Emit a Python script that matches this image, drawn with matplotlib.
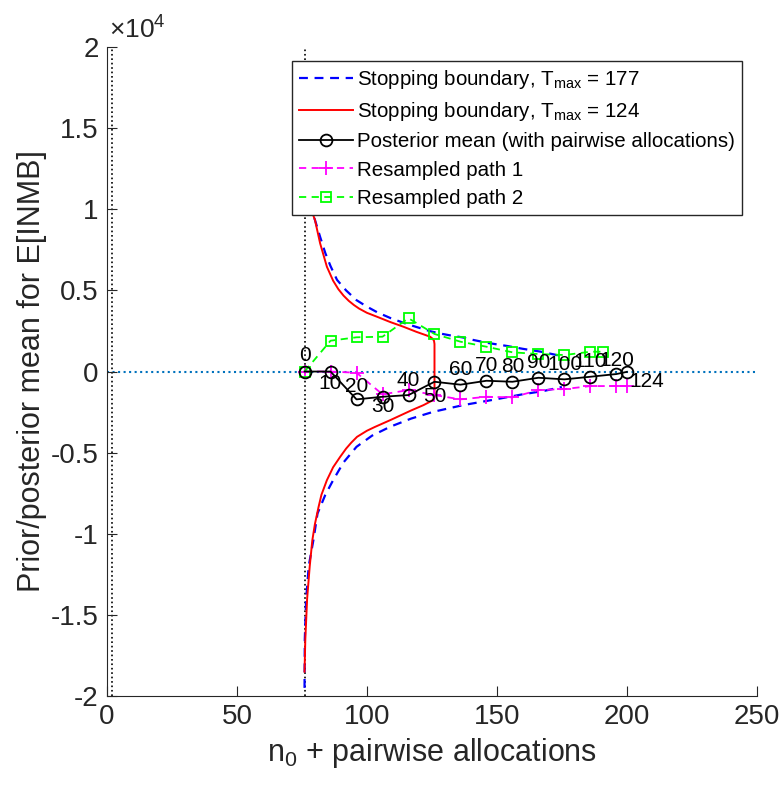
import numpy as np
import matplotlib
matplotlib.use('Agg')
import matplotlib.pyplot as plt

plt.rcParams['font.family'] = ['Liberation Sans', 'DejaVu Sans']
plt.rcParams['mathtext.fontset'] = 'custom'
plt.rcParams['mathtext.rm'] = 'Liberation Sans'
plt.rcParams['mathtext.it'] = 'Liberation Sans'
plt.rcParams['axes.unicode_minus'] = False

# stopping boundaries
blue_n_up = [76.0, 76.3, 76.8, 77.6, 78.5, 80, 82, 84, 86, 88.5, 92, 96, 100, 104, 109, 115, 120,
             124, 128, 133, 137, 141, 147, 154, 160, 167, 175]
blue_up = [19000, 16000, 13000, 11000, 10000, 9350, 8300, 7300, 6500, 5650, 5000, 4400, 4000, 3650,
           3300, 2950, 2700, 2500, 2350, 2200, 2100, 1944, 1750, 1574, 1400, 1222, 950]
blue_n_lo = [76.0, 76.1, 76.6, 77.6, 79.4, 81, 84, 87, 91, 96, 102, 109, 117, 125.6, 137, 150, 160,
             168, 175]
blue_lo = [-19500, -16500, -14100, -12000, -10400, -8750, -7600, -6700, -5600, -4640, -3950, -3400,
           -2900, -2480, -2070, -1700, -1400, -1200, -950]

red_n = [76.0, 76.3, 76.8, 77.6, 78.5, 80, 82, 84.6, 87, 89, 91, 93, 95, 97, 100, 103.8, 109, 114,
         119, 122, 124.3, 125.3, 125.8, 126, 126, 125.8, 125, 121.8, 117, 109, 103, 100, 96.2, 94, 92,
         89.7, 87, 84.6, 82.5, 81.4, 80, 79, 78, 77, 76.3, 76.0]
red_val = [19000, 16000, 13000, 11000, 10000, 9350, 7900, 6460, 5600, 5080, 4680, 4360, 4100, 3880,
           3620, 3383, 3050, 2765, 2450, 2280, 2148, 2020, 1900, 1700, -1500, -1680, -1800, -2068,
           -2400, -2994, -3420, -3650, -4025, -4380, -4750, -5260, -5900, -6698, -7600, -8346, -9400,
           -10400, -12000, -14000, -16500, -18500]

# posterior mean and resampled paths
n_mean = [76, 86, 96, 106, 116, 126, 136, 146, 156, 166, 176, 186, 196, 200]
post_mean = [0, 0, -1716, -1555, -1450, -630, -810, -568, -630, -383, -482, -321, -154, -20]
path1 = [0, 0, -74, -1407, -1142, -1450, -1716, -1555, -1593, -1142, -1080, -895, -895, -895]
n_path2 = [76, 86, 96, 106, 116, 126, 136, 146, 156, 166, 176, 186, 191]
path2 = [0, 1900, 2111, 2148, 3284, 2315, 1840, 1530, 1185, 1080, 1018, 1222, 1222]
point_labels = ['0', '10', '20', '30', '40', '50', '60', '70', '80', '90', '100', '110', '120', '124']

n0 = 76
dark = (0.15, 0.15, 0.15)

fig = plt.figure(figsize=(7.81, 7.85), dpi=100)
ax = fig.add_axes([0.137, 0.1134, 0.832, 0.8266])

ax.axvline(2, color='k', ls=':', lw=1.2, zorder=1)
ax.axvline(n0, color='k', ls=':', lw=1.2, zorder=1)
ax.axhline(0, color=(0, 0.447, 0.741), ls=':', lw=1.5, zorder=1)

l1, = ax.plot(blue_n_up, blue_up, color='b', ls='--', lw=1.6, dashes=(4, 3), zorder=2)
ax.plot(blue_n_lo, blue_lo, color='b', ls='--', lw=1.6, dashes=(4, 3), zorder=2)
l2, = ax.plot(red_n, red_val, color='r', lw=1.4, zorder=3)
l4, = ax.plot(n_mean, path1, color=(1, 0, 1), ls='--', dashes=(4, 3), lw=1.3, marker='+', ms=10,
              mew=1.3, zorder=4)
l5, = ax.plot(n_path2, path2, color=(0, 1, 0), ls='--', dashes=(4, 3), lw=1.3, marker='s', ms=6.5,
              mfc='none', mew=1.3, zorder=4)
l3, = ax.plot(n_mean, post_mean, color='k', lw=1.3, marker='o', ms=8.5, mfc='none', mew=1.3, zorder=5)

offsets = [(0, 11.5), (0, -8.6), (0, 9.4), (0, -7.2), (0, 10.8), (0, -10.8), (0, 10.8),
           (0, 10.8), (0, 10.8), (0, 10.8), (0, 10.8), (0, 10.8), (0, 9.4), (2, -7.2)]
for x, y, lab, off in zip(n_mean, post_mean, point_labels, offsets):
    ha = 'left' if lab == '124' else 'center'
    ax.annotate(lab, (x, y), xytext=off, textcoords='offset points', ha=ha, va='center',
                fontsize=15, color='k', zorder=6)

ax.set_xlim(0, 250)
ax.set_ylim(-20000, 20000)
ax.set_xticks([0, 50, 100, 150, 200, 250])
yt = [-2, -1.5, -1, -0.5, 0, 0.5, 1, 1.5, 2]
ax.set_yticks([v * 1e4 for v in yt])
ax.set_yticklabels([('%g' % v) for v in yt])
ax.text(0.003, 1.005, r'$\times$10$^4$', transform=ax.transAxes, fontsize=19, ha='left', va='bottom',
        color=dark)

for s in ['top', 'right']:
    ax.spines[s].set_visible(False)
for s in ['left', 'bottom']:
    ax.spines[s].set_color(dark)
ax.tick_params(direction='in', length=7, labelsize=20, colors=dark, pad=6)

ax.set_xlabel(r'n$_0$ + pairwise allocations', fontsize=22, color=dark, labelpad=4)
ax.set_ylabel('Prior/posterior mean for E[INMB]', fontsize=22, color=dark, labelpad=3)

leg = ax.legend([l1, l2, l3, l4, l5],
                [r'Stopping boundary, T$_{max}$ = 177', r'Stopping boundary, T$_{max}$ = 124',
                 'Posterior mean (with pairwise allocations)', 'Resampled path 1', 'Resampled path 2'],
                loc='upper right', bbox_to_anchor=(0.977, 0.979), borderaxespad=0, fontsize=14.8,
                fancybox=False, framealpha=1, edgecolor=dark, handlelength=2.6,
                handletextpad=0.2, labelspacing=0.45, borderpad=0.35)
leg.get_frame().set_linewidth(1.0)

fig.savefig('out.png', dpi=100)
